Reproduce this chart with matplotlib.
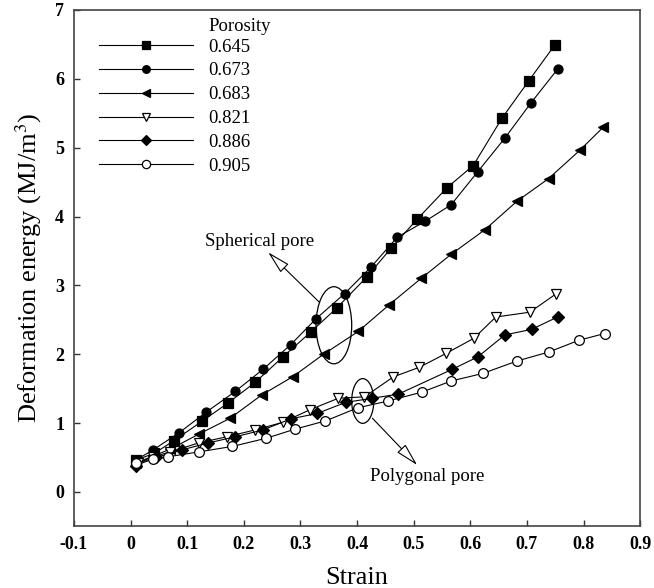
import numpy as np
import matplotlib
matplotlib.use('Agg')
import matplotlib.pyplot as plt
from matplotlib.patches import Ellipse

plt.rcParams['font.family'] = ['Liberation Serif', 'DejaVu Serif']
plt.rcParams['mathtext.fontset'] = 'stix'

# porosity series: strain / deformation energy (MJ/m^3)
labels = ['0.645', '0.673', '0.683', '0.821', '0.886', '0.905']

s_645 = [0.009, 0.042, 0.076, 0.127, 0.172, 0.220, 0.269, 0.318, 0.364, 0.417,
         0.460, 0.506, 0.559, 0.605, 0.656, 0.703, 0.749]
e_645 = [0.46, 0.56, 0.74, 1.03, 1.29, 1.59, 1.96, 2.32, 2.67, 3.12,
         3.54, 3.96, 4.42, 4.74, 5.43, 5.97, 6.49]

s_673 = [0.009, 0.040, 0.086, 0.134, 0.185, 0.234, 0.283, 0.327, 0.378, 0.424,
         0.471, 0.520, 0.566, 0.613, 0.661, 0.707, 0.754]
e_673 = [0.46, 0.61, 0.86, 1.16, 1.46, 1.78, 2.14, 2.51, 2.88, 3.26,
         3.70, 3.93, 4.17, 4.65, 5.14, 5.65, 6.14]

s_683 = [0.009, 0.040, 0.070, 0.121, 0.176, 0.232, 0.286, 0.341, 0.402, 0.457,
         0.513, 0.566, 0.626, 0.682, 0.738, 0.793, 0.835]
e_683 = [0.42, 0.52, 0.62, 0.84, 1.07, 1.41, 1.67, 2.00, 2.33, 2.72,
         3.10, 3.45, 3.81, 4.22, 4.55, 4.96, 5.30]

s_821 = [0.014, 0.040, 0.070, 0.120, 0.170, 0.220, 0.269, 0.316, 0.367, 0.413,
         0.464, 0.510, 0.557, 0.606, 0.645, 0.705, 0.752]
e_821 = [0.42, 0.51, 0.58, 0.71, 0.80, 0.90, 1.01, 1.19, 1.36, 1.38,
         1.67, 1.81, 2.01, 2.23, 2.54, 2.61, 2.88]

s_886 = [0.009, 0.045, 0.091, 0.137, 0.185, 0.234, 0.283, 0.330, 0.380, 0.427,
         0.473, 0.568, 0.613, 0.661, 0.708, 0.754]
e_886 = [0.38, 0.50, 0.61, 0.71, 0.80, 0.90, 1.06, 1.14, 1.30, 1.36,
         1.42, 1.78, 1.96, 2.28, 2.36, 2.54]

s_905 = [0.009, 0.040, 0.067, 0.120, 0.180, 0.240, 0.290, 0.344, 0.401, 0.455,
         0.515, 0.566, 0.622, 0.682, 0.738, 0.791, 0.837]
e_905 = [0.42, 0.47, 0.51, 0.58, 0.66, 0.78, 0.91, 1.03, 1.22, 1.32,
         1.45, 1.61, 1.72, 1.90, 2.03, 2.20, 2.30]

strains = [s_645, s_673, s_683, s_821, s_886, s_905]
energies = [e_645, e_673, e_683, e_821, e_886, e_905]
markers = ['s', 'o', '<', 'v', 'D', 'o']
fills = ['k', 'k', 'k', 'w', 'k', 'w']
sizes = [7, 6.5, 6.5, 7.5, 6, 7]

fig = plt.figure(figsize=(6.54, 5.88), dpi=100)
ax = fig.add_axes([0.113, 0.105, 0.866, 0.878])

for s, e, m, fc, ms, lab in zip(strains, energies, markers, fills, sizes, labels):
    ax.plot(s, e, '-', color='k', lw=0.8, marker=m, mfc=fc, mec='k',
            mew=0.9, ms=ms, label=lab)

ax.set_xlim(-0.1, 0.9)
ax.set_ylim(-0.5, 7)
ax.set_xticks(np.arange(-0.1, 0.91, 0.1))
ax.set_xticklabels(['-0.1', '0', '0.1', '0.2', '0.3', '0.4', '0.5', '0.6',
                    '0.7', '0.8', '0.9'])
ax.set_yticks(range(0, 8))
ax.tick_params(direction='in', length=4, width=1, top=False, right=False,
               labelsize=13, pad=7, color='#333333')
for t in ax.get_xticklabels() + ax.get_yticklabels():
    t.set_fontweight('bold')
for sp in ax.spines.values():
    sp.set_linewidth(1.2)
    sp.set_color('#444444')

ax.set_xlabel('Strain', fontsize=19, labelpad=10)
ax.set_ylabel('Deformation energy (MJ/m$^3$)', fontsize=19, labelpad=8)

# legend
leg = ax.legend(loc='upper left', bbox_to_anchor=(0.045, 0.945), frameon=False,
                fontsize=13.5, handlelength=5.0, handletextpad=0.8,
                labelspacing=0.36, borderpad=0, borderaxespad=0,
                markerscale=0.85)
ax.text(0.237, 0.968, 'Porosity', transform=ax.transAxes, fontsize=13.5,
        ha='left', va='center')

# pore annotations
arrow = dict(arrowstyle='-|>,head_length=0.8,head_width=0.2', fc='w', ec='k',
             lw=0.8, mutation_scale=18, shrinkA=0, shrinkB=0)
ax.add_patch(Ellipse((0.359, 2.42), 0.063, 1.12, fill=False, ec='k', lw=0.9))
ax.add_patch(Ellipse((0.410, 1.32), 0.039, 0.65, fill=False, ec='k', lw=0.9))
ax.annotate('', xy=(0.243, 3.48), xytext=(0.334, 2.75), arrowprops=arrow)
ax.annotate('', xy=(0.506, 0.39), xytext=(0.427, 1.07), arrowprops=arrow)
ax.text(0.228, 3.64, 'Spherical pore', fontsize=13.5, ha='center', va='center')
ax.text(0.524, 0.22, 'Polygonal pore', fontsize=13.5, ha='center', va='center')

fig.savefig('out.png', dpi=100)
